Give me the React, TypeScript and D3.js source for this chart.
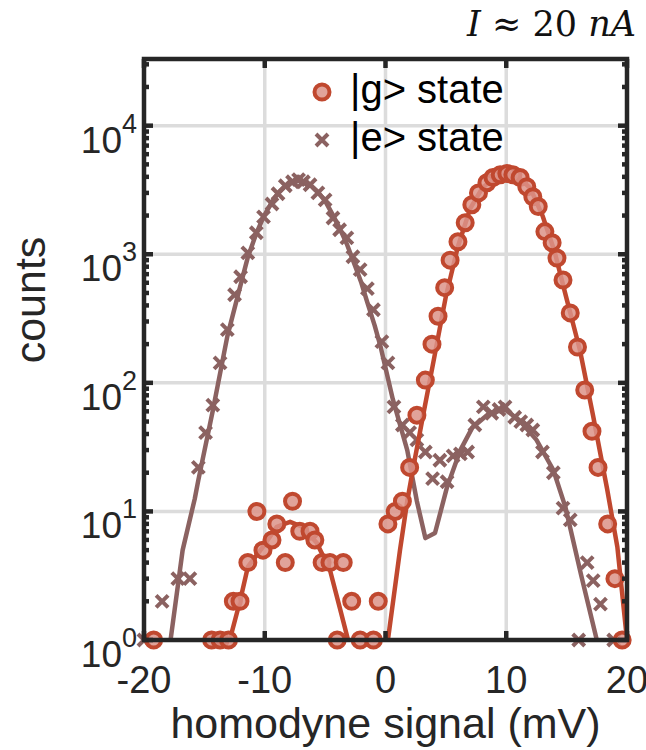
import { useRef, useEffect } from 'react'
import * as d3 from 'd3'

// axis / legend text
const xTicks = [-20, -10, 0, 10, 20]
const yTickExps = [0, 1, 2, 3, 4]
const legendLabels = ['|g> state', '|e> state']

// histogram counts: [signal (mV), counts]
const gState = [
  [-19.2, 1], [-14.4, 1], [-13.7, 1], [-13.0, 1], [-12.6, 2], [-12.05, 2], [-11.4, 4],
  [-10.65, 10], [-10.15, 5], [-9.4, 6], [-9.0, 8], [-8.3, 4], [-7.7, 12], [-7.1, 7],
  [-6.25, 7], [-5.85, 6], [-5.25, 4], [-4.6, 4], [-4.0, 1], [-3.5, 4], [-2.8, 2],
  [-2.1, 1], [-1.0, 1], [-0.6, 2], [0.2, 8], [0.8, 10], [1.4, 12], [2.0, 22], [2.6, 56],
  [3.3, 105], [3.85, 200], [4.35, 330], [4.9, 550], [5.35, 900], [6.0, 1250], [6.6, 1760],
  [7.15, 2430], [7.7, 3000], [8.4, 3600], [8.9, 3950], [9.5, 4150], [10.05, 4250],
  [10.55, 4150], [11.15, 3950], [11.7, 3350], [12.2, 2800], [12.65, 2350], [13.2, 1500],
  [13.8, 1230], [14.2, 935], [14.7, 630], [15.3, 350], [15.9, 190], [16.5, 88], [17.1, 42],
  [17.6, 22], [18.4, 8], [19.0, 3], [19.6, 1],
]

const eState = [
  [-20.0, 1], [-18.5, 2], [-17.2, 3], [-16.2, 3], [-15.5, 22], [-14.9, 41], [-14.3, 67],
  [-13.7, 143], [-13.1, 259], [-12.5, 484], [-12.0, 668], [-11.4, 1026], [-10.7, 1470],
  [-10.1, 1950], [-9.4, 2460], [-8.9, 2955], [-8.3, 3410], [-7.7, 3665], [-7.2, 3800],
  [-6.8, 3665], [-6.25, 3470], [-5.6, 3000], [-5.0, 2650], [-4.35, 1915], [-3.8, 1550],
  [-3.2, 1340], [-2.7, 956], [-2.1, 760], [-1.5, 540], [-1.0, 370], [-0.3, 209], [0.2, 143],
  [0.7, 65], [1.4, 47], [2.0, 41], [2.6, 36], [3.3, 29], [3.9, 18], [4.5, 25], [5.1, 17],
  [5.6, 27], [6.2, 28], [6.8, 29], [7.4, 47], [8.1, 65], [8.8, 58], [9.4, 62], [9.9, 65],
  [10.7, 54], [11.2, 50], [11.7, 47], [12.2, 43], [13.0, 29], [13.9, 20], [14.7, 10.6],
  [15.3, 8.6], [16.0, 1], [16.7, 4], [17.2, 2.9], [17.8, 1.9], [18.9, 1],
]

// fitted curves
const gFitLeft = [
  [-12.9, 1], [-12.05, 2], [-11.4, 3.7], [-10.15, 5.3], [-9.0, 7.6], [-7.9, 8.3],
  [-6.9, 7.6], [-5.7, 5.7], [-4.6, 3.5], [-3.8, 1.8], [-3.1, 1],
]

const gFitMain = [
  [0.2, 1], [1.2, 5], [1.8, 12], [2.3, 22], [3.1, 55], [3.9, 135], [5.0, 470], [6.0, 1150],
  [7.0, 2250], [8.0, 3250], [9.0, 3950], [10.2, 4200], [11.0, 4000], [12.0, 3250],
  [13.0, 2000], [14.0, 1050], [15.0, 450], [16.1, 180], [17.2, 55], [18.35, 15],
  [19.2, 5.3], [20.0, 1],
]

const eFit = [
  [-17.8, 1], [-16.8, 5], [-15.8, 12.5], [-15.5, 17.5], [-14.3, 61], [-13.1, 230],
  [-12.3, 450], [-11.4, 950], [-10.7, 1450], [-10.1, 1950], [-9.4, 2550], [-8.9, 3000],
  [-8.3, 3400], [-7.7, 3650], [-7.2, 3720], [-6.8, 3680], [-6.2, 3450], [-5.6, 3050],
  [-5.0, 2600], [-4.4, 2050], [-3.8, 1600], [-3.2, 1200], [-2.6, 850], [-2.0, 600],
  [-1.5, 420], [-0.9, 280], [-0.4, 190], [0.6, 75], [1.8, 30], [2.6, 12], [3.3, 6.2],
  [4.1, 6.8], [5.1, 15.5], [6.2, 30], [7.2, 45], [8.6, 58], [9.9, 62], [11.1, 51],
  [12.5, 36], [13.9, 21], [14.9, 10.8], [16.2, 3.2], [17.5, 1],
]

const gColor = '#c0482f'
const gFace = '#dc9388'
const eColor = '#8b6261'
const axisColor = '#262626'
const font = '"Liberation Sans", Arial, Helvetica, sans-serif'
const crossPath = 'M-6,-6L6,6M-6,6L6,-6'

const App = () => {
  const ref = useRef(null)

  useEffect(() => {
    const svg = d3.select(ref.current)
    svg.selectAll('*').remove()

    const left = 144
    const right = 627
    const top = 59
    const bottom = 640

    const x = d3.scaleLinear().domain([-20, 20]).range([left, right])
    const y = d3.scaleLog().domain([1, 33000]).range([bottom, top])

    svg.append('rect').attr('width', 646).attr('height', 750).attr('fill', '#fff')

    svg.append('defs').append('clipPath').attr('id', 'plot-clip')
      .append('rect')
      .attr('x', left).attr('y', top)
      .attr('width', right - left).attr('height', bottom - top)

    // grid
    const grid = svg.append('g').attr('stroke', '#dcdcdc').attr('stroke-width', 3.5)
    grid.selectAll('line.vx')
      .data(xTicks.filter((d) => d > -20 && d < 20))
      .enter().append('line')
      .attr('x1', (d) => x(d)).attr('x2', (d) => x(d))
      .attr('y1', top).attr('y2', bottom)
    grid.selectAll('line.hy')
      .data(yTickExps.filter((d) => d > 0))
      .enter().append('line')
      .attr('x1', left).attr('x2', right)
      .attr('y1', (d) => y(10 ** d)).attr('y2', (d) => y(10 ** d))

    const line = d3.line()
      .x((d) => x(d[0]))
      .y((d) => y(d[1]))

    const plot = svg.append('g')

    // |e> state
    plot.append('g').selectAll('path')
      .data(eState)
      .enter().append('path')
      .attr('transform', (d) => `translate(${x(d[0])},${y(d[1])})`)
      .attr('d', crossPath)
      .attr('stroke', eColor)
      .attr('stroke-width', 4)
      .attr('fill', 'none')

    plot.append('path')
      .datum(eFit)
      .attr('clip-path', 'url(#plot-clip)')
      .attr('d', line)
      .attr('fill', 'none')
      .attr('stroke', eColor)
      .attr('stroke-width', 4.5)
      .attr('stroke-linejoin', 'round')

    // |g> state
    plot.selectAll('path.gfit')
      .data([gFitLeft, gFitMain])
      .enter().append('path')
      .attr('clip-path', 'url(#plot-clip)')
      .attr('d', line)
      .attr('fill', 'none')
      .attr('stroke', gColor)
      .attr('stroke-width', 4.5)
      .attr('stroke-linejoin', 'round')

    plot.append('g').selectAll('circle')
      .data(gState)
      .enter().append('circle')
      .attr('cx', (d) => x(d[0]))
      .attr('cy', (d) => y(d[1]))
      .attr('r', 7.5)
      .attr('fill', gFace)
      .attr('fill-opacity', 0.85)
      .attr('stroke', gColor)
      .attr('stroke-width', 4)

    // box + ticks
    const axes = svg.append('g').attr('stroke', axisColor).attr('stroke-width', 4.5)
    axes.append('rect')
      .attr('x', left).attr('y', top)
      .attr('width', right - left).attr('height', bottom - top)
      .attr('fill', 'none')

    xTicks.forEach((t) => {
      axes.append('line').attr('x1', x(t)).attr('x2', x(t)).attr('y1', bottom).attr('y2', bottom - 9)
      axes.append('line').attr('x1', x(t)).attr('x2', x(t)).attr('y1', top).attr('y2', top + 9)
    })

    const minor = []
    yTickExps.forEach((k) => {
      for (let m = 1; m <= 9; m++) {
        const v = m * 10 ** k
        if (v <= 33000) minor.push([v, m === 1])
      }
    })
    minor.forEach(([v, major]) => {
      const len = major ? 9 : 5
      axes.append('line').attr('x1', left).attr('x2', left + len).attr('y1', y(v)).attr('y2', y(v))
      axes.append('line').attr('x1', right).attr('x2', right - len).attr('y1', y(v)).attr('y2', y(v))
    })

    // tick labels
    const labels = svg.append('g')
      .attr('fill', axisColor)
      .style('font-family', font)

    labels.selectAll('text.xt')
      .data(xTicks)
      .enter().append('text')
      .attr('x', (d) => x(d))
      .attr('y', 693)
      .attr('text-anchor', 'middle')
      .style('font-size', '38px')
      .text((d) => d)

    yTickExps.forEach((k) => {
      const t = labels.append('text')
        .attr('x', 137)
        .attr('y', y(10 ** k) + 27)
        .attr('text-anchor', 'end')
        .style('font-size', '37px')
      t.append('tspan').text('10')
      t.append('tspan').attr('dy', -20).style('font-size', '27px').text(k)
    })

    labels.append('text')
      .attr('x', (left + right) / 2)
      .attr('y', 738)
      .attr('text-anchor', 'middle')
      .style('font-size', '43px')
      .text('homodyne signal (mV)')

    labels.append('text')
      .attr('transform', 'translate(45,300) rotate(-90)')
      .attr('text-anchor', 'middle')
      .style('font-size', '43px')
      .text('counts')

    // title
    const title = labels.append('text')
      .attr('x', 636)
      .attr('y', 36)
      .attr('text-anchor', 'end')
      .attr('fill', '#111')
      .style('font-family', '"DejaVu Serif", serif')
      .style('font-size', '35px')
    title.append('tspan').style('font-style', 'italic').text('I')
    title.append('tspan').text(' ≈ 20 ')
    title.append('tspan').style('font-style', 'italic').text('nA')

    // legend
    const legend = svg.append('g')
    legend.append('circle')
      .attr('cx', 322).attr('cy', 92).attr('r', 7.5)
      .attr('fill', gFace).attr('fill-opacity', 0.85)
      .attr('stroke', gColor).attr('stroke-width', 4)
    legend.append('path')
      .attr('transform', 'translate(322,140)')
      .attr('d', crossPath)
      .attr('stroke', eColor).attr('stroke-width', 4)
    legend.selectAll('text')
      .data(legendLabels)
      .enter().append('text')
      .attr('x', 350)
      .attr('y', (d, i) => 103 + i * 48)
      .attr('fill', '#000')
      .style('font-family', font)
      .style('font-size', '40px')
      .text((d) => d)
  }, [])

  return (
    <svg ref={ref} width={646} height={750} style={{ position: 'absolute', left: 0, top: 0 }} />
  )
}

export default App
